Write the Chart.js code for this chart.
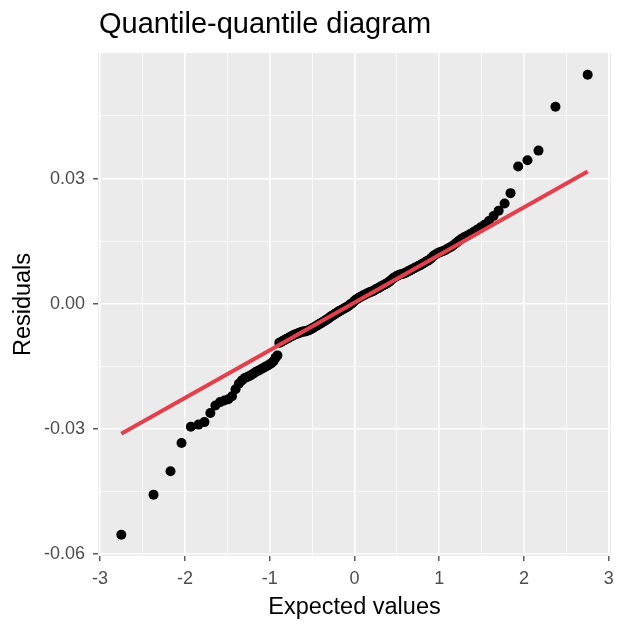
<!DOCTYPE html>
<html>
<head>
<meta charset="utf-8">
<script src="https://cdn.jsdelivr.net/npm/chart.js@4.4.1/dist/chart.umd.min.js"></script>
<style>
  html, body { margin: 0; padding: 0; background: #fff; }
  #qq { display: block; }
</style>
</head>
<body>
<canvas id="qq" width="621" height="624"></canvas>
<script>
// theoretical quantiles (x) and sorted residuals (y)
const expected = [
  -2.75, -2.37, -2.17, -2.04, -1.93, -1.84, -1.77, -1.70, -1.64, -1.585,
  -1.534, -1.488, -1.444, -1.403, -1.364, -1.327, -1.291, -1.258, -1.226, -1.195,
  -1.165, -1.136, -1.108, -1.081, -1.055, -1.029, -1.004, -0.980, -0.956, -0.932,
  -0.909, -0.887, -0.865, -0.844, -0.822, -0.802, -0.781, -0.761, -0.742, -0.722,
  -0.703, -0.684, -0.665, -0.647, -0.628, -0.610, -0.592, -0.575, -0.557, -0.540,
  -0.523, -0.506, -0.489, -0.472, -0.456, -0.439, -0.423, -0.407, -0.390, -0.374,
  -0.358, -0.342, -0.327, -0.311, -0.295, -0.280, -0.264, -0.249, -0.233, -0.218,
  -0.203, -0.188, -0.173, -0.157, -0.142, -0.127, -0.112, -0.097, -0.082, -0.067,
  -0.052, -0.037, -0.022, -0.007, 0.007, 0.022, 0.037, 0.052, 0.067, 0.082,
  0.097, 0.112, 0.127, 0.142, 0.157, 0.173, 0.188, 0.203, 0.218, 0.233,
  0.249, 0.264, 0.280, 0.295, 0.311, 0.327, 0.342, 0.358, 0.374, 0.390,
  0.407, 0.423, 0.439, 0.456, 0.472, 0.489, 0.506, 0.523, 0.540, 0.557,
  0.575, 0.592, 0.610, 0.628, 0.647, 0.665, 0.684, 0.703, 0.722, 0.742,
  0.761, 0.781, 0.802, 0.822, 0.844, 0.865, 0.887, 0.909, 0.932, 0.956,
  0.980, 1.004, 1.029, 1.055, 1.081, 1.108, 1.136, 1.165, 1.195, 1.226,
  1.258, 1.291, 1.327, 1.364, 1.403, 1.444, 1.488, 1.534, 1.585, 1.64,
  1.70, 1.77, 1.84, 1.93, 2.04, 2.17, 2.37, 2.75
];
const residuals = [
  -0.0554, -0.0458, -0.0402, -0.0334, -0.0295, -0.0290, -0.0284, -0.0262, -0.0244, -0.0236,
  -0.0232, -0.0229, -0.0222, -0.0205, -0.0192, -0.0184, -0.0178, -0.0175, -0.0172, -0.0168,
  -0.0164, -0.0161, -0.0158, -0.0155, -0.0152, -0.0149, -0.0146, -0.0143, -0.0138, -0.0130,
  -0.0124, -0.0094, -0.0092, -0.0089, -0.0087, -0.0084, -0.0083, -0.0080, -0.0078, -0.0076,
  -0.0074, -0.0073, -0.0071, -0.0070, -0.0068, -0.0067, -0.0067, -0.0066, -0.0065, -0.0064,
  -0.0062, -0.0060, -0.0058, -0.0056, -0.0054, -0.0052, -0.0050, -0.0048, -0.0046, -0.0044,
  -0.0042, -0.0040, -0.0038, -0.0036, -0.0033, -0.0031, -0.0029, -0.0027, -0.0025, -0.0023,
  -0.0021, -0.0019, -0.0017, -0.0016, -0.0014, -0.0012, -0.0010, -0.0009, -0.0007, -0.0005,
  -0.0002, 0.0000, 0.0002, 0.0005, 0.0008, 0.0010, 0.0012, 0.0014, 0.0016, 0.0017,
  0.0019, 0.0021, 0.0022, 0.0024, 0.0025, 0.0027, 0.0028, 0.0029, 0.0030, 0.0032,
  0.0034, 0.0036, 0.0037, 0.0039, 0.0041, 0.0043, 0.0044, 0.0046, 0.0048, 0.0050,
  0.0052, 0.0055, 0.0058, 0.0061, 0.0063, 0.0065, 0.0067, 0.0069, 0.0070, 0.0071,
  0.0072, 0.0073, 0.0075, 0.0077, 0.0079, 0.0081, 0.0083, 0.0085, 0.0087, 0.0089,
  0.0091, 0.0093, 0.0096, 0.0098, 0.0101, 0.0103, 0.0106, 0.0110, 0.0115, 0.0118,
  0.0121, 0.0123, 0.0125, 0.0127, 0.0130, 0.0133, 0.0136, 0.0140, 0.0145, 0.0150,
  0.0155, 0.0159, 0.0163, 0.0167, 0.0172, 0.0177, 0.0183, 0.0189, 0.0198, 0.0210,
  0.0223, 0.0240, 0.0265, 0.0329, 0.0344, 0.0367, 0.0472, 0.0549
];
// reference line end points
const lineX = [-2.75, 2.75];
const lineY = [-0.0312, 0.0317];

// axis breaks
const xMajor = [-3, -2, -1, 0, 1, 2, 3];
const xMinor = [-2.5, -1.5, -0.5, 0.5, 1.5, 2.5];
const yMajor = [-0.06, -0.03, 0, 0.03];
const yMinor = [-0.045, -0.015, 0.015, 0.045];
const yLabels = ['-0.06', '-0.03', '0.00', '0.03'];

const points = expected.map((x, i) => ({ x: x, y: residuals[i] }));
const linePts = lineX.map((x, i) => ({ x: x, y: lineY[i] }));

const isMajor = (list, v) => list.some(m => Math.abs(m - v) < 1e-9);

Chart.defaults.font.family = "'Liberation Sans', Arial, sans-serif";

const panelBg = {
    id: 'panelBg',
    beforeDraw(chart) {
        const { ctx, chartArea: a } = chart;
        ctx.save();
        ctx.fillStyle = '#EBEBEB';
        ctx.fillRect(a.left, a.top, a.right - a.left, a.bottom - a.top);
        ctx.restore();
    },
    afterDraw(chart) {
        const ctx = chart.ctx;
        ctx.save();
        ctx.fillStyle = '#000';
        ctx.font = "29px 'Liberation Sans', Arial, sans-serif";
        ctx.textBaseline = 'alphabetic';
        ctx.textAlign = 'left';
        ctx.fillText('Quantile-quantile diagram', 99, 33);
        ctx.restore();
    }
};

const ctx = document.getElementById('qq').getContext('2d');
const qqChart = new Chart(ctx, {
    type: 'scatter',
    data: {
        datasets: [{
            type: 'line',
            data: linePts,
            borderColor: '#E4404C',
            borderWidth: 4,
            pointRadius: 0,
            fill: false,
            order: 0
        }, {
            data: points,
            backgroundColor: '#000',
            borderColor: '#000',
            borderWidth: 0,
            pointRadius: 5,
            order: 1
        }]
    },
    options: {
        responsive: false,
        animation: false,
        layout: { padding: { top: 53, right: 10, left: 0, bottom: 0 } },
        plugins: {
            legend: { display: false },
            tooltip: { enabled: false }
        },
        scales: {
            x: {
                type: 'linear',
                min: -3.025,
                max: 3.025,
                afterBuildTicks: s => { s.ticks = xMajor.concat(xMinor).sort((a, b) => a - b).map(v => ({ value: v })); },
                afterFit: s => { s.height = 68; },
                border: { display: false },
                grid: {
                    color: '#FFFFFF',
                    lineWidth: c => isMajor(xMajor, c.tick.value) ? 1.6 : 0.7,
                    tickColor: c => isMajor(xMajor, c.tick.value) ? '#333333' : 'rgba(0,0,0,0)',
                    tickLength: 5,
                    tickWidth: 1.2
                },
                ticks: {
                    autoSkip: false,
                    maxRotation: 0,
                    padding: 7,
                    color: '#4D4D4D',
                    font: { size: 18 },
                    callback: v => isMajor(xMajor, v) ? String(v) : ''
                },
                title: {
                    display: true,
                    text: 'Expected values',
                    color: '#000',
                    font: { size: 23.5 },
                    padding: { top: 0, bottom: 2 }
                }
            },
            y: {
                type: 'linear',
                min: -0.0605,
                max: 0.0601,
                afterBuildTicks: s => { s.ticks = yMajor.concat(yMinor).sort((a, b) => a - b).map(v => ({ value: v })); },
                afterFit: s => { s.width = 98; },
                border: { display: false },
                grid: {
                    color: '#FFFFFF',
                    lineWidth: c => isMajor(yMajor, c.tick.value) ? 1.6 : 0.7,
                    tickColor: c => isMajor(yMajor, c.tick.value) ? '#333333' : 'rgba(0,0,0,0)',
                    tickLength: 5,
                    tickWidth: 1.2
                },
                ticks: {
                    autoSkip: false,
                    padding: 8,
                    color: '#4D4D4D',
                    font: { size: 18 },
                    callback: v => {
                        const k = yMajor.findIndex(m => Math.abs(m - v) < 1e-9);
                        return k >= 0 ? yLabels[k] : '';
                    }
                },
                title: {
                    display: true,
                    text: 'Residuals',
                    color: '#000',
                    font: { size: 23.5 },
                    padding: { top: 9, bottom: 0 }
                }
            }
        }
    },
    plugins: [panelBg]
});
</script>
</body>
</html>
